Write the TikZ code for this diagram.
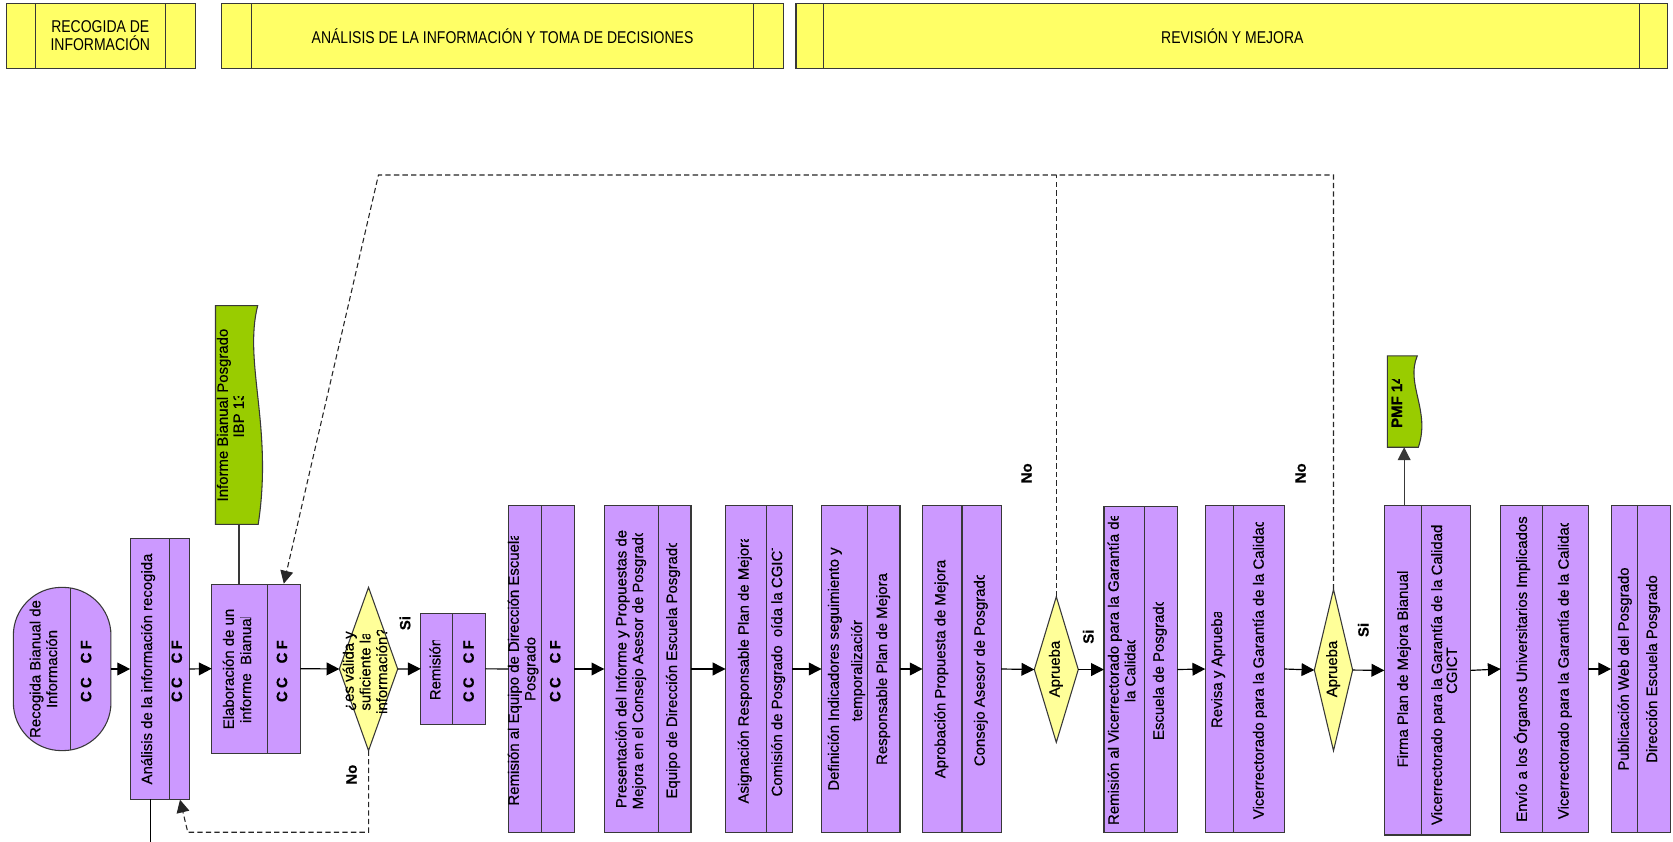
\documentclass[tikz,border=0pt]{standalone}
\usepackage{fontspec}
\setmainfont{Liberation Sans}[FakeBold=0.5]
\newfontfamily\narrowfont{Liberation Sans}[FakeStretch=0.82]
\usetikzlibrary{shapes.geometric,arrows.meta}
\definecolor{purp}{HTML}{CC99FF}
\definecolor{hyel}{HTML}{FFFF66}
\definecolor{dyel}{HTML}{FFFF99}
\definecolor{dgreen}{HTML}{99CC00}
\definecolor{bord}{HTML}{383838}
\tikzset{
  boxst/.style={draw=bord, fill=purp, line width=1pt, inner sep=0pt, outer sep=0pt},
  hdr/.style={draw=bord, fill=hyel, line width=1pt, inner sep=0pt, outer sep=0pt},
  dec/.style={diamond, draw=bord, fill=dyel, line width=1pt, inner sep=0pt, outer sep=0pt},
  docst/.style={draw=bord, fill=dgreen, line width=1pt},
  divl/.style={draw=bord, line width=1pt},
  txt/.style={rotate=90, inner sep=0pt, font=\fontsize{14}{16}\selectfont, text height=10pt, text depth=3pt},
  lbl/.style={rotate=90, inner sep=0pt, font=\fontsize{14}{16}\selectfont\bfseries},
  htxt/.style={align=center, inner sep=0pt, font=\narrowfont\fontsize{16}{17}\selectfont},
  arr/.style={draw=black, line width=1.1pt, -{Triangle[length=12pt,width=12pt]}},
  garr/.style={draw=bord, line width=1.1pt, -{Triangle[length=12pt,width=12pt]}},
  plain/.style={draw=black, line width=1.1pt},
  gline/.style={draw=bord, line width=1.1pt},
  dashl/.style={draw=black!85, line width=1pt, dash pattern=on 5pt off 3pt},
  dasharr/.style={dashl, -{Triangle[length=12pt,width=12pt]}},
}
\newcommand{\ccf}{\bfseries C\hspace{3pt}C\hspace{13pt}C\hspace{3pt}F}
\newcommand{\vt}[5][627]{%
  \begin{scope}
    \clip ({#3-14},{#4}) rectangle ({#3+14},790);
    \node[txt] (#2) at (#3,#1) {#5};
  \end{scope}}
\newcommand{\pbox}[6]{%
  \node[boxst, minimum width={(#4-#2)*1pt}, minimum height={(#5-#3)*1pt}] (#1) at ({(#2+#4)/2},{(#3+#5)/2}) {};
  \draw[divl] (#6,#3) -- (#6,#5);}
\newcommand{\hdrbox}[7]{%
  \node[hdr, minimum width={(#4-#2)*1pt}, minimum height={(#5-#3)*1pt}] (#1) at ({(#2+#4)/2},{(#3+#5)/2}) {};
  \draw[divl] (#6,#3) -- (#6,#5);
  \draw[divl] (#7,#3) -- (#7,#5);}
\begin{document}
\begin{tikzpicture}[x=1pt,y=-1pt]
\useasboundingbox (0,0) rectangle (1568,789);
\fill[white] (0,0) rectangle (1568,789);

% header
\hdrbox{h1}{6}{3}{183}{64}{33}{155}
\hdrbox{h2}{208}{3}{734}{64}{236}{706}
\hdrbox{h3}{746}{3}{1563}{64}{772}{1537}
\node[htxt] (h1t) at (94,33.5) {RECOGIDA DE\\INFORMACIÓN};
\node[htxt] (h2t) at (471,33.5) {ANÁLISIS DE LA INFORMACIÓN Y TOMA DE DECISIONES};
\node[htxt] (h3t) at (1155,33.5) {REVISIÓN Y MEJORA};

% documents
\draw[docst] (202,286.5) -- (241.5,286.5) .. controls (228,340) and (256,400) .. (242,491.4) -- (202,491.4) -- cycle;
\coordinate (ibpb) at (224,491.4);
\draw[docst] (1300.2,333.6) -- (1328.3,333.6) .. controls (1317,360) and (1341,385) .. (1329.3,419.2) -- (1300.2,419.2) -- cycle;
\coordinate (pmfb) at (1316,419.2);

% terminator
\node[boxst, rounded corners=45pt, minimum width=91.5pt, minimum height=153pt] (t0) at (58.25,627) {};
\draw[divl] (66.5,551.4) -- (66.5,702.6);

% process boxes
\pbox{anal}{122}{505}{177.4}{749}{158.7}
\pbox{elab}{198.4}{547.4}{281.5}{706}{250.5}
\pbox{rem}{394.3}{574.8}{455.2}{678.9}{424.3}
\pbox{eq}{476.7}{474}{538}{780}{507.3}
\pbox{pres}{566.4}{474}{647.6}{780}{617.3}
\pbox{asig}{680}{474}{742.6}{780}{718.5}
\pbox{defi}{770}{474}{843.5}{780}{812.9}
\pbox{apro}{864.7}{474}{938.2}{780}{901.6}
\pbox{remv}{1034.7}{475}{1103.4}{780}{1072.5}
\pbox{rev}{1129.6}{474}{1203.7}{780}{1155.9}
\pbox{fir}{1297.4}{474}{1378.3}{782.6}{1332.4}
\pbox{env}{1406.5}{474}{1488.6}{780}{1445.8}
\pbox{pub}{1510}{474}{1566}{780}{1534.5}

% decisions
\node[dec, minimum width=54.7pt, minimum height=153pt] (d1) at (345.4,627) {};
\node[dec, minimum width=41.2pt, minimum height=136.5pt] (d2) at (990,627.5) {};
\node[dec, minimum width=35.9pt, minimum height=151.2pt] (d3) at (1249.8,628) {};

% texts
\vt{t0a}{34.4}{0}{Recogida Bianual de}
\vt{t0b}{50}{0}{Información}
\vt[629]{t0c}{82}{0}{\ccf}
\vt{an1}{139}{519}{Análisis de la información recogida}
\vt[629]{an2}{167}{0}{\ccf}
\vt{el1}{215.6}{0}{Elaboración de un}
\vt{el2}{231.8}{579}{informe\ \ Bianual}
\vt[629]{el3}{265.6}{0}{\ccf}
\vt[629]{q1}{328}{592}{¿es válida y}
\vt[629]{q2}{343.7}{595}{suficiente la}
\vt[629]{q3}{359.3}{591}{información?}
\vt{rm1}{409.3}{600}{Remisión}
\vt[629]{rm2}{440.5}{0}{\ccf}
\vt{eq1}{482.7}{503}{Remisión al Equipo de Dirección Escuela}
\vt{eq2}{498.3}{0}{Posgrado}
\vt[629]{eq3}{521.7}{0}{\ccf}
\vt{pr1}{583.6}{0}{Presentación del Informe y Propuestas de}
\vt{pr2}{599.2}{500}{Mejora en el Consejo Asesor de Posgrado}
\vt{pr3}{631}{509}{Equipo de Dirección Escuela Posgrado}
\vt{as1}{698.2}{506}{Asignación Responsable Plan de Mejora}
\vt{as2}{729.5}{514}{Comisión de Posgrado\ \ oída la CGICT}
\vt{de1}{782.6}{0}{Definición Indicadores seguimiento y}
\vt{de2}{804.4}{582}{temporalización}
\vt{de3}{827.8}{0}{Responsable Plan de Mejora}
\vt{ap1}{882.5}{0}{Aprobación Propuesta de Mejora}
\vt{ap2}{919.4}{539}{Consejo Asesor de Posgrado}
\vt{pa}{989.7}{0}{Aprueba}
\vt{rv1}{1045}{484}{Remisión al Vicerrectorado para la Garantía de}
\vt{rv2}{1060.6}{600}{la Calidad}
\vt{rv3}{1087.2}{565}{Escuela de Posgrado}
\vt{re1}{1141.8}{574}{Revisa y Aprueba}
\vt{re2}{1180.9}{489.5}{Vicerrectorado para la Garantía de la Calidad}
\vt{pb}{1249.6}{0}{Aprueba}
\vt{fi1}{1316}{0}{Firma Plan de Mejora Bianual}
\vt{fi2}{1348}{489}{Vicerrectorado para la Garantía de la Calidad y}
\vt[628.5]{fi3}{1362}{0}{CGICT}
\vt{en1}{1427.6}{0}{Envío a los Órganos Universitarios Implicados}
\vt{en2}{1466.7}{490.5}{Vicerrectorado para la Garantía de la Calidad}
\vt{pu1}{1523}{0}{Publicación Web del Posgrado}
\vt{pu2}{1549.5}{0}{Dirección Escuela Posgrado}
\vt[389]{ib1}{210}{309}{Informe Bianual Posgrado}
\vt[389]{ib2}{225}{372}{IBP 13}
\vt[376.4]{pm}{1310.5}{356}{\bfseries PMF 14}

% labels
\node[lbl] (si1) at (379.6,584) {Si};
\node[lbl] (no1) at (329.6,726) {No};
\node[lbl] (no2) at (962.2,443.6) {No};
\node[lbl] (si2) at (1020,596.7) {Si};
\node[lbl] (no3) at (1219,443.6) {No};
\node[lbl] (si3) at (1277.7,590.4) {Si};

% main flow
\draw[arr] (t0.east) -- (anal.west);
\draw[arr] (anal.east) -- (elab.west);
\draw[arr] (elab.east) -- (d1.west);
\draw[arr] (d1.east) -- (rem.west);
\draw[plain] (rem.east) -- (eq.west);
\draw[arr] (eq.east) -- (pres.west);
\draw[arr] (pres.east) -- (asig.west);
\draw[arr] (asig.east) -- (defi.west);
\draw[arr] (defi.east) -- (apro.west);
\draw[arr] (apro.east) -- (d2.west);
\draw[arr] (d2.east) -- (remv.west);
\draw[arr] (remv.east) -- (rev.west);
\draw[arr] (rev.east) -- (d3.west);
\draw[arr] (d3.east) -- (fir.west);
\draw[arr] (fir.east) -- (env.west);
\draw[arr] (env.east) -- (pub.west);

% documents links
\draw[gline] (elab.north -| ibpb) -- (ibpb);
\draw[garr] (fir.north -| pmfb) -- (pmfb);
\coordinate (anbot) at (141,789);
\draw[plain] (anal.south -| anbot) -- (anbot);

% loops
\coordinate (lp1) at (345.4,780);
\coordinate (lp2) at (176,780);
\coordinate (antip) at (168.7,749.5);
\draw[dasharr] (d1.south) -- (lp1) -- (lp2) -- (antip);
\coordinate (tp1) at (1249.8,164);
\coordinate (tp2) at (354.7,164);
\coordinate (tp3) at (990,164);
\coordinate (eltip) at (266,547);
\draw[dasharr] (d3.north) -- (tp1) -- (tp2) -- (eltip);
\draw[dashl] (d2.north) -- (tp3);
\end{tikzpicture}
\end{document}
